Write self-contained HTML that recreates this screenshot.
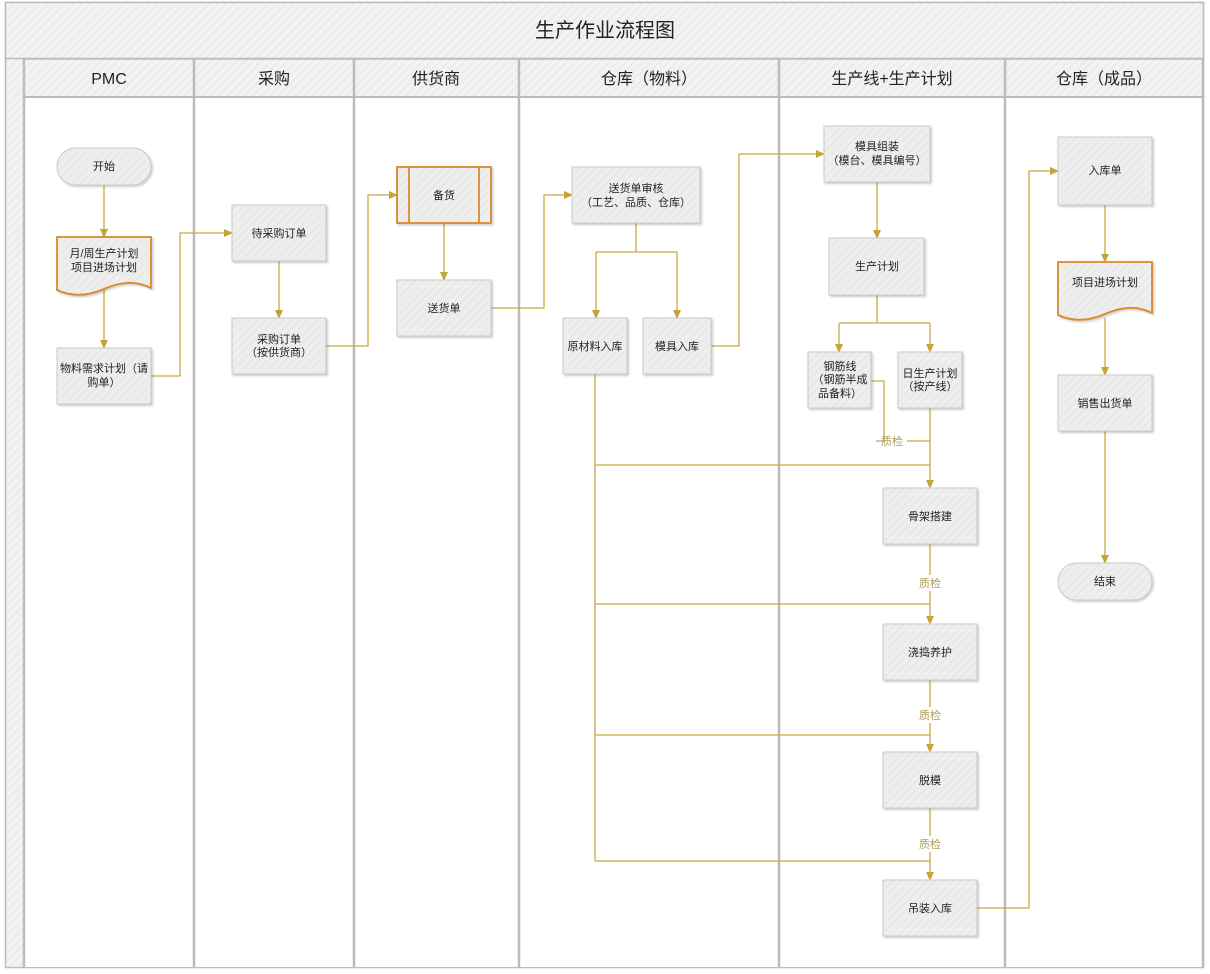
<!DOCTYPE html>
<html><head><meta charset="utf-8"><style>
html,body{margin:0;padding:0;background:#fff;}
svg{display:block;font-family:"Liberation Sans","Noto Sans CJK SC",sans-serif;}
</style></head><body>
<svg width="1210" height="974" viewBox="0 0 1210 974" xmlns="http://www.w3.org/2000/svg">
<defs>
<pattern id="h" width="6" height="6" patternUnits="userSpaceOnUse" patternTransform="rotate(45)">
<rect width="6" height="6" fill="#f2f2f2"/><line x1="0" y1="0" x2="0" y2="6" stroke="#e6e6e6" stroke-width="2"/>
</pattern>
<pattern id="hn" width="6" height="6" patternUnits="userSpaceOnUse" patternTransform="rotate(45)">
<rect width="6" height="6" fill="#eeeeee"/><line x1="0" y1="0" x2="0" y2="6" stroke="#e4e4e4" stroke-width="2"/>
</pattern>
<marker id="a" markerWidth="10" markerHeight="10" refX="8" refY="4" orient="auto" markerUnits="userSpaceOnUse">
<path d="M0,0 L9,4 L0,8 Z" fill="#c4a535"/>
</marker>
<filter id="s" x="-10%" y="-10%" width="130%" height="130%"><feDropShadow dx="1.5" dy="1.5" stdDeviation="1" flood-color="#000" flood-opacity="0.2"/></filter>
</defs>
<!-- frame -->
<rect x="5.5" y="2.5" width="1198" height="965" fill="url(#h)" stroke="#b8bcbc" stroke-width="1.5"/>
<rect x="5.5" y="2.5" width="1198" height="56" fill="url(#h)" stroke="#b8bcbc" stroke-width="1.5"/>
<text x="605" y="37" font-size="20" text-anchor="middle" fill="#222">生产作业流程图</text>
<!-- lane bodies -->
<rect x="24" y="97" width="1179" height="870" fill="#fff"/>
<rect x="24" y="59" width="1179" height="38" fill="url(#h)" stroke="#b8bcbc" stroke-width="1.5"/>
<g stroke="#b8bcbc" stroke-width="2.5">
<line x1="24" y1="59" x2="24" y2="967"/>
<line x1="194" y1="59" x2="194" y2="967"/>
<line x1="354" y1="59" x2="354" y2="967"/>
<line x1="519" y1="59" x2="519" y2="967"/>
<line x1="779" y1="59" x2="779" y2="967"/>
<line x1="1005" y1="59" x2="1005" y2="967"/>
<line x1="1203" y1="59" x2="1203" y2="967"/>
</g>
<line x1="24" y1="97" x2="1203" y2="97" stroke="#b8bcbc" stroke-width="2"/>
<g font-size="16" text-anchor="middle" fill="#222">
<text x="109" y="84">PMC</text>
<text x="274" y="84">采购</text>
<text x="436" y="84">供货商</text>
<text x="649" y="84">仓库（物料）</text>
<text x="892" y="84">生产线+生产计划</text>
<text x="1104" y="84">仓库（成品）</text>
</g>
<!-- connectors -->
<g fill="none" stroke="#c8ab45" stroke-width="1.3">
<path d="M104,185 V237" marker-end="url(#a)"/>
<path d="M104,290 V348" marker-end="url(#a)"/>
<path d="M151,376 H180 V233 H232" marker-end="url(#a)"/>
<path d="M279,261 V318" marker-end="url(#a)"/>
<path d="M326,346 H368 V195 H397" marker-end="url(#a)"/>
<path d="M444,223 V280" marker-end="url(#a)"/>
<path d="M491,308 H544 V195 H572" marker-end="url(#a)"/>
<path d="M636,223 V252 M596,252 H677"/>
<path d="M596,252 V318" marker-end="url(#a)"/>
<path d="M677,252 V318" marker-end="url(#a)"/>
<path d="M711,346 H739 V154 H824" marker-end="url(#a)"/>
<path d="M877,182 V238" marker-end="url(#a)"/>
<path d="M877,295 V323 M839,323 H930"/>
<path d="M839,323 V352" marker-end="url(#a)"/>
<path d="M930,323 V352" marker-end="url(#a)"/>
<path d="M871,381 H884 V441 H876 M907,441 H930"/>
<path d="M930,408 V488" marker-end="url(#a)"/>
<path d="M595,374 V861 M595,465 H930 M595,604 H930 M595,735 H930 M595,861 H930"/>
<path d="M930,544 V575 M930,591 V624" marker-end="url(#a)"/>
<path d="M930,680 V707 M930,723 V752" marker-end="url(#a)"/>
<path d="M930,808 V836 M930,852 V880" marker-end="url(#a)"/>
<path d="M977,908 H1029 V171 H1058" marker-end="url(#a)"/>
<path d="M1105,205 V262" marker-end="url(#a)"/>
<path d="M1105,318 V375" marker-end="url(#a)"/>
<path d="M1105,431 V563" marker-end="url(#a)"/>
</g>
<g font-size="11" fill="#b09a5a" text-anchor="middle">
<text x="892" y="445">质检</text>
<text x="930" y="587">质检</text>
<text x="930" y="719">质检</text>
<text x="930" y="848">质检</text>
</g>
<!-- nodes -->
<g fill="url(#hn)" stroke="#c9c9c9" stroke-width="1" filter="url(#s)">
<rect x="57" y="148" width="94" height="37" rx="18.5"/>
<rect x="57" y="348" width="94" height="56"/>
<rect x="232" y="205" width="94" height="56"/>
<rect x="232" y="318" width="94" height="56"/>
<rect x="397" y="280" width="94" height="56"/>
<rect x="572" y="167" width="128" height="56"/>
<rect x="563" y="318" width="64" height="56"/>
<rect x="643" y="318" width="68" height="56"/>
<rect x="824" y="126" width="106" height="56"/>
<rect x="829" y="238" width="95" height="57"/>
<rect x="808" y="352" width="63" height="56"/>
<rect x="898" y="352" width="64" height="56"/>
<rect x="883" y="488" width="94" height="56"/>
<rect x="883" y="624" width="94" height="56"/>
<rect x="883" y="752" width="94" height="56"/>
<rect x="883" y="880" width="94" height="56"/>
<rect x="1058" y="137" width="94" height="68"/>
<rect x="1058" y="375" width="94" height="56"/>
<rect x="1058" y="563" width="94" height="37" rx="18.5"/>
</g>
<g fill="url(#hn)" stroke="#d9892a" stroke-width="1.8" filter="url(#s)">
<path d="M57,237 H151 V288 C135,280 120,282 104,289 C88,296 72,297 57,290 Z"/>
<path d="M1058,262 H1152 V313 C1136,305 1121,307 1105,314 C1089,321 1073,322 1058,315 Z"/>
<rect x="397" y="167" width="94" height="56"/>
</g>
<g stroke="#d9892a" stroke-width="1.8"><line x1="409" y1="167" x2="409" y2="223"/><line x1="479" y1="167" x2="479" y2="223"/></g>
<g font-size="11" fill="#222" text-anchor="middle">
<text x="104" y="170">开始</text>
<text x="104" y="257">月/周生产计划</text><text x="104" y="271">项目进场计划</text>
<text x="104" y="372">物料需求计划（请</text><text x="104" y="386">购单）</text>
<text x="279" y="237">待采购订单</text>
<text x="279" y="343">采购订单</text><text x="279" y="356">（按供货商）</text>
<text x="444" y="199">备货</text>
<text x="444" y="312">送货单</text>
<text x="636" y="192">送货单审核</text><text x="636" y="206">（工艺、品质、仓库）</text>
<text x="595" y="350">原材料入库</text>
<text x="677" y="350">模具入库</text>
<text x="877" y="150">模具组装</text><text x="877" y="164">（模台、模具编号）</text>
<text x="877" y="270">生产计划</text>
<text x="840" y="370">钢筋线</text><text x="840" y="383">（钢筋半成</text><text x="840" y="397">品备料）</text>
<text x="930" y="377">日生产计划</text><text x="930" y="390">（按产线）</text>
<text x="930" y="520">骨架搭建</text>
<text x="930" y="656">浇捣养护</text>
<text x="930" y="784">脱模</text>
<text x="930" y="912">吊装入库</text>
<text x="1105" y="174">入库单</text>
<text x="1105" y="286">项目进场计划</text>
<text x="1105" y="407">销售出货单</text>
<text x="1105" y="585">结束</text>
</g>
</svg>
</body></html>
